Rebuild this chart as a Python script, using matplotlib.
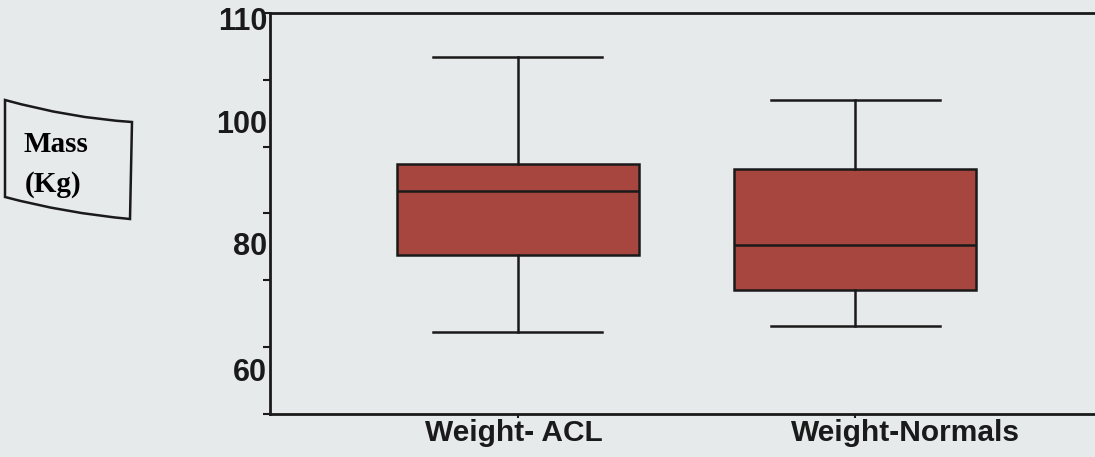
import matplotlib.pyplot as plt
from matplotlib.path import Path
from matplotlib.patches import PathPatch
from matplotlib.transforms import ScaledTranslation

groups = ['Weight- ACL', 'Weight-Normals']
whislo = [62.3, 63.2]
q1 = [73.8, 68.6]
med = [83.4, 75.3]
q3 = [87.4, 86.7]
whishi = [103.4, 97.0]

ytick_marks = [50, 60, 70, 80, 90, 100, 110]
ytick_labels = [60, 80, 100, 110]

BG = '#e7eaeb'
BOX = '#a6463f'

if __name__ == '__main__':
    fig = plt.figure(figsize=(10.95, 4.57), dpi=100, facecolor=BG)
    ax = fig.add_axes([0.2466, 0.0941, 0.7534, 0.8775], facecolor=BG)

    stats = [dict(label=g, whislo=lo, q1=a, med=m, q3=b, whishi=hi, fliers=[])
             for g, lo, a, m, b, hi in zip(groups, whislo, q1, med, q3, whishi)]
    ax.bxp(stats, positions=[1, 2], widths=0.716, patch_artist=True,
           showfliers=False,
           boxprops=dict(facecolor=BOX, edgecolor='#1a1a1a', linewidth=1.8),
           medianprops=dict(color='#1a1a1a', linewidth=1.8),
           whiskerprops=dict(color='#1a1a1a', linewidth=1.8),
           capprops=dict(color='#1a1a1a', linewidth=1.8),
           capwidths=0.5)

    ax.set_xlim(0.266, 2.71)
    ax.set_ylim(50, 110)

    # y axis: unlabeled marks every 10, labels drawn slightly below as in the scan
    ax.set_yticks(ytick_marks)
    ax.set_yticklabels([])
    ax.tick_params(axis='y', direction='out', length=5, width=1.5, color='#1a1a1a')
    shifts = [-26, -34, -45, -9]
    for v, s in zip(ytick_labels, shifts):
        off = ScaledTranslation(-3 / 100, s / 100, fig.dpi_scale_trans)
        ax.text(0, v, str(v), transform=ax.get_yaxis_transform() + off,
                ha='right', va='center', fontsize=22, fontweight='bold',
                family=['Liberation Sans', 'DejaVu Sans'], color='#1a1a1a')

    ax.set_xticks([1, 2])
    ax.set_xticklabels([])
    ax.tick_params(axis='x', direction='out', length=3, width=1.5, color='#1a1a1a')
    xshifts = [-4, 50]
    for x, g, s in zip([1, 2], groups, xshifts):
        off = ScaledTranslation(s / 100, -19 / 100, fig.dpi_scale_trans)
        ax.text(x, 0, g, transform=ax.get_xaxis_transform() + off,
                ha='center', va='center', fontsize=21.5, fontweight='bold',
                family=['Liberation Sans', 'DejaVu Sans'], color='#1a1a1a')

    for side in ['left', 'bottom', 'top']:
        ax.spines[side].set_linewidth(2)
        ax.spines[side].set_color('#1a1a1a')
    ax.spines['right'].set_visible(False)

    # slanted "Mass (Kg)" label box, in figure pixel coordinates
    W, H = 1095, 457
    pts = [(5, 100), (70, 118), (132, 122), (130, 219), (65, 213), (5, 197), (5, 100)]
    verts = [(x / W, 1 - y / H) for x, y in pts]
    codes = [Path.MOVETO, Path.CURVE3, Path.CURVE3, Path.LINETO,
             Path.CURVE3, Path.CURVE3, Path.CLOSEPOLY]
    fig.patches.append(PathPatch(Path(verts, codes), transform=fig.transFigure,
                                 facecolor=BG, edgecolor='#1a1a1a', linewidth=1.8))
    fig.text(56 / W, 1 - 145 / H, 'Mass', ha='center', va='center', fontsize=21,
             fontweight='bold', family=['Liberation Serif', 'DejaVu Serif'])
    fig.text(53 / W, 1 - 184 / H, '(Kg)', ha='center', va='center', fontsize=21,
             fontweight='bold', family=['Liberation Serif', 'DejaVu Serif'])

    fig.savefig('out.png', dpi=100, facecolor=BG)
